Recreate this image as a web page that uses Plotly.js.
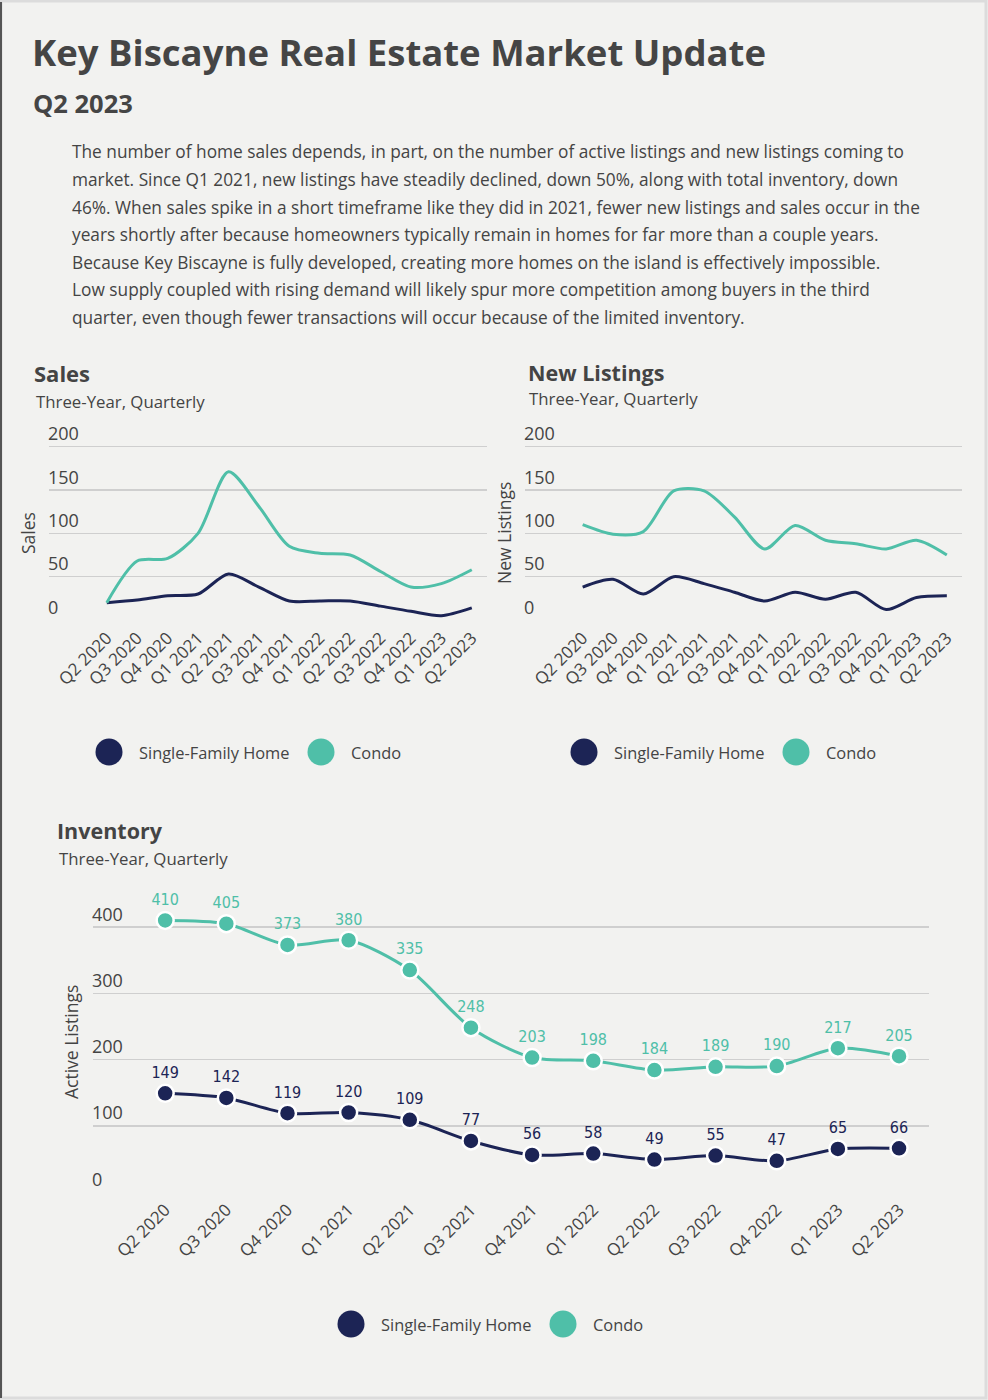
<!DOCTYPE html>
<html>
<head>
<meta charset="utf-8">
<script src="https://cdn.plot.ly/plotly-3.0.1.min.js"></script>
<style>
html,body{margin:0;padding:0;background:#f2f2f0;}
#chart{width:988px;height:1400px;}
</style>
</head>
<body>
<div id="chart"></div>
<script>
// ---- data ----
var quarters = ["Q2 2020","Q3 2020","Q4 2020","Q1 2021","Q2 2021","Q3 2021","Q4 2021","Q1 2022","Q2 2022","Q3 2022","Q4 2022","Q1 2023","Q2 2023"];
var salesSFH   = [20,23,28,30,53,38,22,22,22,16,10,5,14];
var salesCondo = [20,68,71,100,171,131,85,77,75,56,38,42,58];
var newSFH     = [38,47,30,50,42,32,22,32,24,32,12,26,28];
var newCondo   = [110,99,102,149,149,119,82,109,92,88,82,92,75];
var invSFH     = [149,142,119,120,109,77,56,58,49,55,47,65,66];
var invCondo   = [410,405,373,380,335,248,203,198,184,189,190,217,205];
var seriesNames = ["Single-Family Home","Condo"];
var yTicksSmall = [0,50,100,150,200];
var yTicksInv = [0,100,200,300,400];

var W = 988, H = 1400;
var NAVY = "#1c2455", TEAL = "#4fbfa8", TXT = "#444444", GRID = "#cfcfcf", BG = "#f2f2f0";
var FONT = "'Open Sans', Lato, sans-serif";
var NARROW = "'Liberation Sans Narrow', 'DejaVu Sans Condensed', sans-serif";
function px(x){return x/W;}
function py(y){return 1 - y/H;}

function lineTrace(y, name, color, xa, ya){
  return {x: quarters, y: y, name: name, type: "scatter", mode: "lines",
    line: {color: color, width: 3, shape: "spline", smoothing: 0.8},
    xaxis: xa, yaxis: ya, showlegend: false, hoverinfo: "skip"};
}
function invTrace(y, name, color){
  return {x: quarters, y: y, name: name, type: "scatter", mode: "lines+markers+text",
    text: y.map(String), textposition: "top center",
    textfont: {family: NARROW, size: 16, color: color},
    line: {color: color, width: 3, shape: "spline", smoothing: 0.8},
    marker: {color: color, size: 17, line: {color: "#ffffff", width: 2.5}},
    xaxis: "x3", yaxis: "y3", showlegend: false, hoverinfo: "skip", cliponaxis: false};
}

var data = [
  lineTrace(salesSFH, seriesNames[0], NAVY, "x", "y"),
  lineTrace(salesCondo, seriesNames[1], TEAL, "x", "y"),
  lineTrace(newSFH, seriesNames[0], NAVY, "x2", "y2"),
  lineTrace(newCondo, seriesNames[1], TEAL, "x2", "y2"),
  invTrace(invSFH, seriesNames[0], NAVY),
  invTrace(invCondo, seriesNames[1], TEAL)
];

function xAxis(domain, range, anchor){
  return {domain: domain, range: range, type: "category", categoryorder: "array", categoryarray: quarters,
    anchor: anchor, ticklabelstandoff: 3,
    tickangle: -45, tickfont: {family: FONT, size: 17, color: TXT}, showgrid: false, zeroline: false,
    showline: false, ticks: "", fixedrange: true};
}
function yAxis(domain, range, ticks, anchor){
  return {domain: domain, range: range, tickvals: ticks, ticktext: ticks.map(String),
    ticklabelposition: "inside top", ticklabelstandoff: -4, tickfont: {family: FONT, size: 18, color: TXT},
    showgrid: true, gridcolor: GRID, gridwidth: 1.5, zeroline: false, showline: false, ticks: "",
    anchor: anchor, fixedrange: true};
}

// small charts: 0 at y=620, 200 at y=446.7 -> 0.8667 px/unit; range top 235
var smallY = [py(620 + 0.8667), py(620 - 235*0.8667)];
var invScale = 0.6625;
var layout = {
  width: W, height: H, margin: {l:0, r:0, t:0, b:0},
  paper_bgcolor: BG, plot_bgcolor: BG, showlegend: false,
  font: {family: FONT, color: TXT},
  xaxis: xAxis([px(49), px(487)], [-1.9, 12.5], "y"),
  yaxis: yAxis(smallY, [-1, 235], yTicksSmall, "x"),
  xaxis2: xAxis([px(525), px(962)], [-1.9, 12.5], "y2"),
  yaxis2: yAxis(smallY, [-1, 235], yTicksSmall, "x2"),
  xaxis3: xAxis([px(93), px(929)], [-1.18, 12.49], "y3"),
  yaxis3: yAxis([py(1192 + invScale), py(1192 - 460*invScale)], [-1, 460], yTicksInv, "x3"),
  annotations: [],
  shapes: []
};

function ann(x, y, text, size, bold, color, angle){
  var a = {xref: "paper", yref: "paper", x: px(x), y: py(y), text: bold ? "<b>"+text+"</b>" : text,
    showarrow: false, xanchor: angle ? "center" : "left", yanchor: "middle", align: "left",
    font: {family: FONT, size: size, color: color || TXT}};
  if (angle) a.textangle = angle;
  layout.annotations.push(a);
}

ann(30, 52, "Key Biscayne Real Estate Market Update", 36.5, true, "#454545");
ann(31, 103, "Q2 2023", 25.5, true, "#454545");
var para = [
  "The number of home sales depends, in part, on the number of active listings and new listings coming to",
  "market. Since Q1 2021, new listings have steadily declined, down 50%, along with total inventory, down",
  "46%. When sales spike in a short timeframe like they did in 2021, fewer new listings and sales occur in the",
  "years shortly after because homeowners typically remain in homes for far more than a couple years.",
  "Because Key Biscayne is fully developed, creating more homes on the island is effectively impossible.",
  "Low supply coupled with rising demand will likely spur more competition among buyers in the third",
  "quarter, even though fewer transactions will occur because of the limited inventory."
];
para.forEach(function(line, i){ ann(70, 152 + i*27.5, line, 17.3, false); });

ann(32, 373, "Sales", 22, true);
ann(34, 401, "Three-Year, Quarterly", 16.8, false);
ann(526, 372, "New Listings", 21.5, true);
ann(527, 399, "Three-Year, Quarterly", 16.8, false);
ann(55, 830, "Inventory", 21.5, true);
ann(57, 858, "Three-Year, Quarterly", 16.8, false);

// axis titles
ann(28, 533, "Sales", 17.5, false, TXT, -90);
ann(504, 533, "New Listings", 17.5, false, TXT, -90);
ann(71, 1042, "Active Listings", 17.5, false, TXT, -90);

function legend(cx1, cx2, cy){
  var r = 13.5;
  [[cx1, NAVY, seriesNames[0]], [cx2, TEAL, seriesNames[1]]].forEach(function(item){
    layout.shapes.push({type: "circle", xref: "paper", yref: "paper",
      x0: px(item[0]-r), x1: px(item[0]+r), y0: py(cy+r), y1: py(cy-r),
      fillcolor: item[1], line: {width: 0}});
    ann(item[0]+28, cy, item[2], 16.4, false);
  });
}
legend(109, 321, 752);
legend(584, 796, 752);
legend(351, 563, 1324);

// frame
layout.shapes.push({type: "rect", xref: "paper", yref: "paper", x0: px(1), x1: px(986), y0: py(1398), y1: py(1),
  line: {color: "#dcdcdc", width: 3}, fillcolor: "rgba(0,0,0,0)"});
layout.shapes.push({type: "line", xref: "paper", yref: "paper", x0: px(1), x1: px(1), y0: py(1398), y1: py(2),
  line: {color: "#555555", width: 2}});

Plotly.newPlot("chart", data, layout, {staticPlot: true, displayModeBar: false});
</script>
</body>
</html>
